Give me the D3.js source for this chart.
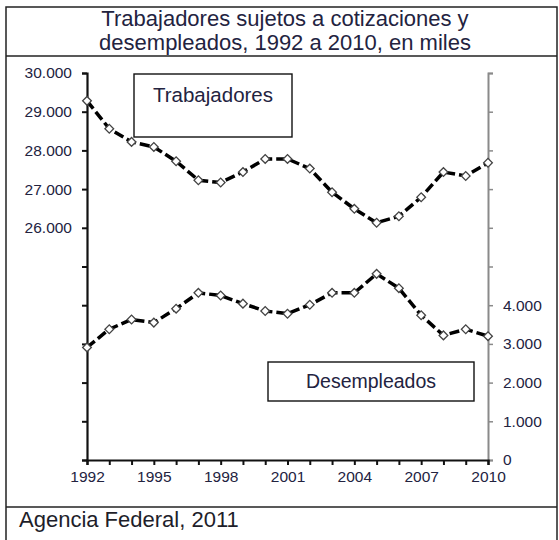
<!DOCTYPE html>
<html>
<head>
<meta charset="utf-8">
<script src="https://cdn.jsdelivr.net/npm/d3@7"></script>
<style>
  body { margin: 0; background: #fff; }
  text { font-family: "Liberation Sans", Arial, sans-serif; }
</style>
</head>
<body>
<div id="chart"></div>
<script>
// Chart data (thousands)
var years = [1992, 1993, 1994, 1995, 1996, 1997, 1998, 1999, 2000, 2001,
             2002, 2003, 2004, 2005, 2006, 2007, 2008, 2009, 2010];
var trabajadores = [29280, 28560, 28220, 28090, 27720, 27230, 27170, 27440, 27780, 27780,
                    27530, 26920, 26490, 26130, 26300, 26790, 27440, 27340, 27680];
var desempleados = [2910, 3380, 3630, 3550, 3910, 4320, 4250, 4040, 3850, 3780,
                    4010, 4320, 4320, 4810, 4440, 3740, 3220, 3380, 3200];
var leftTicks = [20000, 21000, 22000, 23000, 24000, 25000, 26000, 27000, 28000, 29000, 30000];
var leftLabelMin = 26000;
var rightTicks = [0, 1000, 2000, 3000, 4000, 5000, 6000, 7000, 8000, 9000, 10000];
var rightLabelMax = 4000;
var xLabelYears = [1992, 1995, 1998, 2001, 2004, 2007, 2010];

var titleLines = ["Trabajadores sujetos a cotizaciones y", "desempleados, 1992 a 2010, en miles"];
var source = "Agencia Federal, 2011";

var svgWidth = 559;
var svgHeight = 540;

// plot area
var plot = { left: 87, right: 488, top: 73, bottom: 460 };

var svg = d3.select("#chart")
  .append("svg")
  .attr("width", svgWidth)
  .attr("height", svgHeight);

// number format with dot as thousands separator
var locale = d3.formatLocale({ decimal: ",", thousands: ".", grouping: [3], currency: ["", ""] });
var fmt = locale.format(",");

var textColor = "#23233f";

// Frame
svg.append("rect")
  .attr("x", 6).attr("y", 7)
  .attr("width", 551).attr("height", 545)
  .attr("fill", "none").attr("stroke", "#222").attr("stroke-width", 1.5);
svg.append("line")
  .attr("x1", 6).attr("x2", 557).attr("y1", 56).attr("y2", 56)
  .attr("stroke", "#222").attr("stroke-width", 1.5);
svg.append("line")
  .attr("x1", 6).attr("x2", 557).attr("y1", 507).attr("y2", 507)
  .attr("stroke", "#222").attr("stroke-width", 1.5);

// Title
svg.selectAll(".title")
  .data(titleLines)
  .enter()
  .append("text")
  .attr("class", "title")
  .attr("x", 285)
  .attr("y", (d, i) => 26 + i * 24)
  .attr("text-anchor", "middle")
  .style("font-size", "22px")
  .style("fill", textColor)
  .text(d => d);

// Source
svg.append("text")
  .attr("x", 19).attr("y", 527)
  .style("font-size", "22px")
  .style("fill", "#1e1e2a")
  .text(source);

// Scales
var xScale = d3.scaleLinear()
  .domain([years[0], years[years.length - 1]])
  .range([plot.left, plot.right]);
var yLeft = d3.scaleLinear()
  .domain([20000, 30000])
  .range([plot.bottom, plot.top]);
var yRight = d3.scaleLinear()
  .domain([0, 10000])
  .range([plot.bottom, plot.top]);

// Right axis (gray)
var rightAxis = d3.axisRight(yRight)
  .tickValues(rightTicks)
  .tickSize(5)
  .tickPadding(10)
  .tickFormat(d => d <= rightLabelMax ? fmt(d) : "");
var gR = svg.append("g")
  .attr("transform", `translate(${plot.right}, 0)`)
  .call(rightAxis);
gR.select(".domain").attr("stroke", "#8a8a8a").attr("stroke-width", 2);
gR.selectAll(".tick line").attr("stroke", "#8a8a8a").attr("stroke-width", 1.5);
gR.selectAll(".tick text")
  .style("font-size", "15.5px")
  .style("font-family", "'Liberation Sans', Arial, sans-serif")
  .attr("fill", textColor);

// Left axis
var leftAxis = d3.axisLeft(yLeft)
  .tickValues(leftTicks)
  .tickSize(5)
  .tickPadding(10)
  .tickFormat(d => d >= leftLabelMin ? fmt(d) : "");
var gL = svg.append("g")
  .attr("transform", `translate(${plot.left}, 0)`)
  .call(leftAxis);
gL.select(".domain").attr("stroke", "#111").attr("stroke-width", 2.2);
gL.selectAll(".tick line").attr("stroke", "#111").attr("stroke-width", 2);
gL.selectAll(".tick text")
  .style("font-size", "15.5px")
  .style("font-family", "'Liberation Sans', Arial, sans-serif")
  .attr("fill", textColor);

// Bottom axis
var bottomAxis = d3.axisBottom(xScale)
  .tickValues(years)
  .tickSize(5)
  .tickPadding(6)
  .tickFormat(d => xLabelYears.indexOf(d) >= 0 ? d : "");
var gB = svg.append("g")
  .attr("transform", `translate(0, ${plot.bottom})`)
  .call(bottomAxis);
gB.select(".domain").attr("stroke", "#111").attr("stroke-width", 2.2);
gB.selectAll(".tick line").attr("stroke", "#111").attr("stroke-width", 2);
gB.selectAll(".tick text")
  .style("font-size", "15.5px")
  .style("font-family", "'Liberation Sans', Arial, sans-serif")
  .attr("fill", textColor);

// Legend boxes
var legends = [
  { label: "Trabajadores", x: 134, y: 74, w: 158, h: 63, ty: 102, fs: 20.5 },
  { label: "Desempleados", x: 268, y: 362, w: 206, h: 39, ty: 388, fs: 19.5 }
];
legends.forEach(function (l) {
  svg.append("rect")
    .attr("x", l.x).attr("y", l.y)
    .attr("width", l.w).attr("height", l.h)
    .attr("fill", "#fff").attr("stroke", "#111").attr("stroke-width", 1.4);
  svg.append("text")
    .attr("x", l.x + l.w / 2).attr("y", l.ty)
    .attr("text-anchor", "middle")
    .style("font-size", l.fs + "px")
    .style("fill", textColor)
    .text(l.label);
});

// Series lines + markers
function drawSeries(values, yScale) {
  var pts = years.map((y, i) => [y, values[i]]);
  var line = d3.line()
    .x(d => xScale(d[0]))
    .y(d => yScale(d[1]));
  svg.append("path")
    .datum(pts)
    .attr("d", line)
    .attr("fill", "none")
    .attr("stroke", "#000")
    .attr("stroke-width", 3.5)
    .attr("stroke-dasharray", "10,4");
  svg.selectAll(null)
    .data(pts)
    .enter()
    .append("path")
    .attr("d", d3.symbol(d3.symbolSquare, 38))
    .attr("transform", d => `translate(${xScale(d[0])}, ${yScale(d[1])}) rotate(45)`)
    .attr("fill", "#fff")
    .attr("stroke", "#444")
    .attr("stroke-width", 1.3);
}
drawSeries(trabajadores, yLeft);
drawSeries(desempleados, yRight);
</script>
</body>
</html>
